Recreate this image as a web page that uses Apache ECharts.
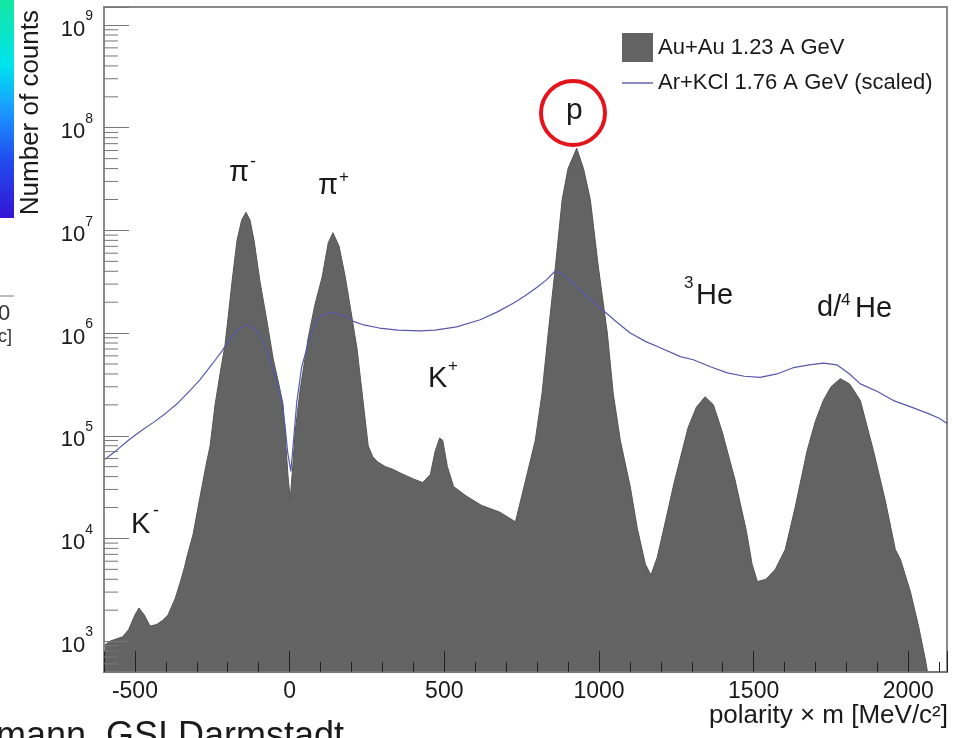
<!DOCTYPE html>
<html>
<head>
<meta charset="utf-8">
<title>Polarity x mass spectrum</title>
<script src="https://cdn.jsdelivr.net/npm/echarts@6/dist/echarts.min.js"></script>
<style>
  html, body { margin: 0; padding: 0; background: #fff; }
  #chart { width: 959px; height: 738px; }
</style>
</head>
<body>
<div id="chart"></div>
<script>
const AU_NAME = "Au+Au 1.23 A GeV";
const AR_NAME = "Ar+KCl 1.76 A GeV (scaled)";

const auMass = [
  -600, -580, -560, -540, -520, -500, -487, -470, -451, -430, -410, -393, -370, -354, -340, -332,
  -312, -290, -270, -257, -241, -225, -209, -199, -186, -170, -155, -141, -128, -115, -96, -75,
  -53, -35, -21, -12, -5, 2, 10, 18, 34, 60, 82, 105, 125, 140, 160, 180, 196, 218, 238, 254,
  268, 283, 310, 335, 360, 400, 430, 455, 470, 485, 495, 510, 530, 570, 620, 680, 730, 761,
  794, 816, 836, 859, 881, 900, 928, 950, 972, 998, 1027, 1046, 1069, 1101, 1124, 1150, 1168,
  1188, 1211, 1243, 1288, 1315, 1343, 1370, 1398, 1440, 1476, 1495, 1512, 1540, 1570, 1602,
  1634, 1673, 1700, 1725, 1750, 1780, 1810, 1845, 1887, 1926, 1958, 1975, 2007, 2033, 2055,
  2062, 2068
];
const auCounts = [
  900, 1000, 1050, 1100, 1300, 1800, 2100, 1800, 1400, 1450, 1600, 1800, 2600, 3700, 5200, 6600,
  11000, 25000, 52000, 80000, 2.0e5, 4.0e5, 7.6e5, 1.4e6, 3.2e6, 8.0e6, 1.26e7, 1.5e7, 1.26e7, 8.0e6, 3.2e6, 1.4e6,
  5.6e5, 3.2e5, 2.0e5, 8.0e4, 4.0e4, 2.4e4, 5.0e4, 1.1e5, 2.8e5, 9.0e5, 1.9e6, 3.5e6, 7.6e6, 9.5e6, 7.0e6, 3.5e6, 1.8e6, 7.0e5, 2.1e5, 8.0e4,
  6.3e4, 5.6e4, 5.0e4, 4.7e4, 4.3e4, 3.8e4, 3.5e4, 4.2e4, 7.0e4, 9.5e4, 9.0e4, 5.0e4, 3.2e4, 2.6e4, 2.1e4, 1.8e4, 1.45e4, 3.5e4,
  9.0e4, 2.6e5, 1.0e6, 4.4e6, 2.0e7, 4.0e7, 6.3e7, 4.0e7, 2.0e7, 4.4e6, 1.0e6, 2.6e5, 9.0e4, 3.2e4, 1.25e4, 5600, 4400,
  6500, 1.3e4, 3.5e4, 1.2e5, 1.9e5, 2.4e5, 2.0e5, 1.1e5, 3.7e4, 1.2e4, 5600, 3800, 4000, 5000, 7800,
  2.0e4, 7.2e4, 1.4e5, 2.2e5, 3.0e5, 3.6e5, 3.2e5, 2.2e5, 7.2e4, 2.3e4, 7800, 6200, 3000, 1400, 660,
  500, 300
];

const arMass = [
  -600, -560, -520, -480, -440, -400, -360, -320, -290, -250, -220, -190, -165, -140, -115, -96,
  -75, -53, -35, -25, -15, -6, 4, 14, 23, 39, 60, 88, 110, 137, 165, 186, 206, 240, 290, 350,
  420, 470, 540, 616, 670, 723, 760, 800, 830, 858, 880, 910, 939, 975, 1014, 1060, 1101, 1150,
  1198, 1263, 1305, 1360, 1415, 1470, 1521, 1575, 1628, 1680, 1725, 1770, 1810, 1845, 1900,
  1952, 2010, 2061, 2100, 2125
];
const arCounts = [
  5.8e4, 7.2e4, 9.1e4, 1.12e5, 1.35e5, 1.66e5, 2.1e5, 2.8e5, 3.5e5, 5.0e5, 6.6e5, 9.1e5, 1.1e6, 1.2e6, 1.12e6, 9.5e5,
  6.8e5, 4.4e5, 2.8e5, 2.1e5, 1.26e5, 6.8e4, 4.5e4, 1.0e5, 2.1e5, 4.7e5, 7.9e5, 1.35e6, 1.5e6, 1.6e6, 1.5e6, 1.45e6, 1.3e6, 1.2e6, 1.12e6, 1.07e6,
  1.05e6, 1.07e6, 1.15e6, 1.35e6, 1.6e6, 1.95e6, 2.3e6, 2.8e6, 3.3e6, 4.0e6, 3.8e6, 3.2e6, 2.6e6, 2.1e6, 1.66e6, 1.26e6, 1.0e6, 8.3e5,
  7.2e5, 5.9e5, 5.5e5, 4.7e5, 4.1e5, 3.8e5, 3.7e5, 4.0e5, 4.6e5, 4.9e5, 5.1e5, 4.9e5, 4.0e5, 3.2e5, 2.7e5,
  2.2e5, 1.9e5, 1.66e5, 1.48e5, 1.32e5
];

const xMin = -600, xMax = 2125;
const yMin = 500, yMax = 1.5e9;
const decades = [100, 1e3, 1e4, 1e5, 1e6, 1e7, 1e8, 1e9];
const minorSteps = [2, 3, 4, 5, 6, 7, 8, 9];

const font = "Liberation Sans";

function pairs(xs, ys) {
  return xs.map((x, i) => [x, ys[i]]);
}

// log minor ticks on the y axis (2..9 x 10^n)
const yMinorTicks = [];
decades.forEach((d) => {
  minorSteps.forEach((s) => {
    const v = d * s;
    if (v > yMin && v < yMax) yMinorTicks.push([xMin, v]);
  });
});

function txt(text, x, y, size, extra, rot) {
  return {
    type: "text",
    x: x,
    y: y,
    z: 20,
    rotation: rot || 0,
    style: Object.assign(
      {
        text: text,
        fill: "#1a1a1a",
        fontSize: size,
        fontFamily: font,
        align: "left",
        verticalAlign: "middle",
      },
      extra || {}
    ),
  };
}

const chart = echarts.init(document.getElementById("chart"));
chart.setOption({
  backgroundColor: "#fff",
  animation: false,
  grid: {
    left: 104,
    right: 12,
    top: 7,
    bottom: 66,
    show: true,
    borderColor: "#8a8a8a",
    borderWidth: 2,
    outerBoundsMode: "none",
  },
  legend: {
    orient: "vertical",
    left: 622,
    top: 33,
    padding: 0,
    itemWidth: 31,
    itemHeight: 29,
    itemGap: 10,
    textStyle: { fontSize: 22, color: "#1a1a1a", fontFamily: font },
    data: [
      { name: AU_NAME, icon: "rect" },
      { name: AR_NAME, icon: "path://M0,0H31V1.4H0Z" },
    ],
  },
  xAxis: {
    type: "value",
    min: xMin,
    max: xMax,
    z: 10,
    splitLine: { show: false },
    axisLine: { lineStyle: { color: "#777", width: 2 } },
    axisTick: { inside: true, length: 21, lineStyle: { color: "#222" } },
    minorTick: { show: true, splitNumber: 5, length: 10, lineStyle: { color: "#222" } },
    axisLabel: {
      fontSize: 23,
      color: "#1a1a1a",
      fontFamily: font,
      margin: 8,
      formatter: (v) => (v % 500 === 0 ? String(v) : ""),
    },
  },
  yAxis: {
    type: "log",
    logBase: 10,
    min: yMin,
    max: yMax,
    z: 10,
    splitLine: { show: false },
    axisLine: { show: true, onZero: false, lineStyle: { color: "#888", width: 2 } },
    axisTick: { inside: true, length: 25, lineStyle: { color: "#777" } },
    axisLabel: {
      margin: 11,
      formatter: (v) => {
        const l = Math.log10(v);
        const e = Math.round(l);
        if (Math.abs(l - e) > 1e-6) return "";
        return "{b|10}{e|" + e + "}";
      },
      rich: {
        b: { fontSize: 22, color: "#1a1a1a", fontFamily: font, padding: [9, 0, 0, 0] },
        e: { fontSize: 14, color: "#1a1a1a", fontFamily: font, verticalAlign: "top" },
      },
    },
  },
  series: [
    {
      name: AU_NAME,
      type: "line",
      data: pairs(auMass, auCounts),
      symbol: "none",
      color: "#636363",
      lineStyle: { color: "#555", width: 1 },
      areaStyle: { color: "#636363", opacity: 1 },
      z: 2,
    },
    {
      name: AR_NAME,
      type: "line",
      data: pairs(arMass, arCounts),
      symbol: "none",
      color: "#5858aa",
      lineStyle: { color: "#5858aa", width: 1.2 },
      z: 3,
    },
    {
      type: "custom",
      silent: true,
      data: yMinorTicks,
      z: 11,
      renderItem: (params, api) => {
        const p = api.coord([api.value(0), api.value(1)]);
        return {
          type: "line",
          shape: { x1: p[0], y1: p[1], x2: p[0] + 14, y2: p[1] },
          style: { stroke: "#777", lineWidth: 1 },
        };
      },
    },
  ],
  graphic: [
    {
      type: "rect",
      shape: { x: 0, y: 0, width: 14, height: 218 },
      style: {
        fill: new echarts.graphic.LinearGradient(0, 0, 0, 1, [
          { offset: 0, color: "#14e6a0" },
          { offset: 0.3, color: "#00e4ee" },
          { offset: 0.5, color: "#1a9cff" },
          { offset: 0.72, color: "#2050f0" },
          { offset: 1, color: "#3414d4" },
        ]),
      },
    },
    { type: "line", shape: { x1: 0, y1: 296, x2: 14, y2: 296 }, style: { stroke: "#777", lineWidth: 1 } },
    txt("0", -2, 314, 22, { fill: "#333" }),
    txt("c]", -2, 337, 18, { fill: "#333" }),
    // axis titles
    txt("Number of counts", 31, 10, 26, { align: "right" }, Math.PI / 2),
    txt("polarity \u00d7 m [MeV/c\u00b2]", 948, 716, 26, { align: "right" }),
    // peak labels
    txt("\u03c0", 229, 173, 29),
    txt("-", 250, 162, 18),
    txt("\u03c0", 318, 186, 29),
    txt("+", 339, 177, 17),
    txt("K", 428, 379, 29),
    txt("+", 448, 366, 17),
    txt("K", 131, 525, 29),
    txt("-", 153, 511, 18),
    txt("p", 566, 111, 30),
    txt("3", 684, 283, 17),
    txt("He", 696, 296, 29),
    txt("d/", 817, 308, 29),
    txt("4", 841, 300, 17),
    txt("He", 855, 309, 29),
    {
      type: "circle",
      shape: { cx: 573, cy: 113, r: 32 },
      style: { fill: "none", stroke: "#e4141c", lineWidth: 4 },
      z: 20,
    },
    txt("mann, GSI Darmstadt", -4, 737, 36),
  ],
});
</script>
</body>
</html>
